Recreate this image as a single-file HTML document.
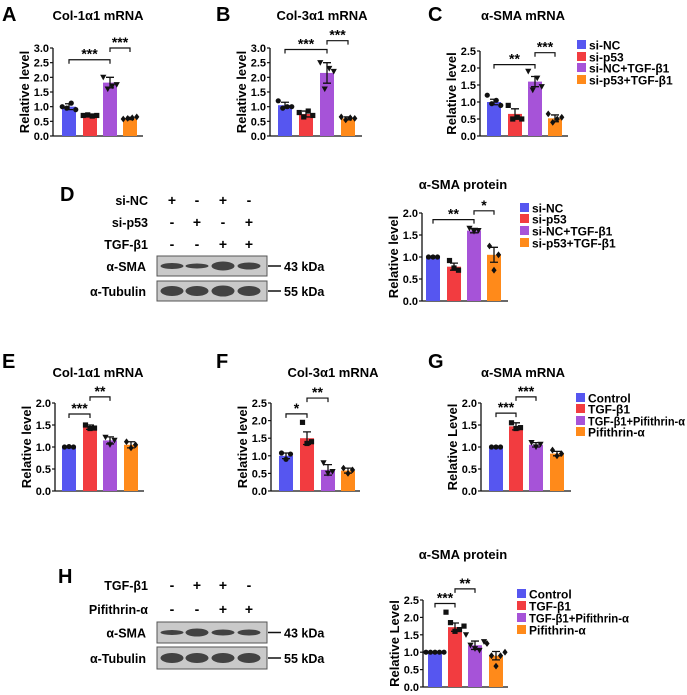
<!DOCTYPE html>
<html><head><meta charset="utf-8"><style>
html,body{margin:0;padding:0;background:#fff;}
svg{display:block;font-family:"Liberation Sans",Arial,sans-serif;font-weight:bold;}
</style></head><body>
<svg id="s" width="687" height="695" xmlns="http://www.w3.org/2000/svg"></svg>
<script>
const S=document.getElementById('s');let h='';
const C=['#5656f0','#f23c40','#a653d8','#ff8a1a'];
function t(x,y,s,sz,anc,extra){h+=`<text x="${x}" y="${y}" font-size="${sz}" text-anchor="${anc||'start'}" ${extra||''}>${s}</text>`;}
function sym(k,x,y){const r=2.6;
 if(k==0)h+=`<circle cx="${x}" cy="${y}" r="${r}" fill="#111"/>`;
 else if(k==1)h+=`<rect x="${x-r}" y="${y-r}" width="${2*r}" height="${2*r}" fill="#111"/>`;
 else if(k==2)h+=`<path d="M${x-r-0.5} ${y-r}L${x+r+0.5} ${y-r}L${x} ${y+r+0.5}Z" fill="#111"/>`;
 else h+=`<path d="M${x} ${y-r-0.8}L${x+r} ${y}L${x} ${y+r+0.8}L${x-r} ${y}Z" fill="#111"/>`;}
function chart(o){
 const {ax,y0,yt,max,step,end,cx,v,e,pts,title,tx,ty,yl,sig,bw}=o;
 const sc=(y0-yt)/max, Y=val=>y0-val*sc, w=bw||14;
 t(tx,ty,title,13,'middle');
 h+=`<line x1="${ax}" y1="${yt}" x2="${ax}" y2="${y0}" stroke="#111" stroke-width="1.3"/>`;
 h+=`<line x1="${ax}" y1="${y0}" x2="${end}" y2="${y0}" stroke="#111" stroke-width="1.3"/>`;
 for(let k=0;k<=max+1e-6;k+=step){const y=Y(k);h+=`<line x1="${ax-3}" y1="${y}" x2="${ax}" y2="${y}" stroke="#111" stroke-width="1.2"/>`;t(ax-4,y+4,k.toFixed(1),11,'end');}
 t(0,0,yl,13,'middle',`transform="translate(${ax-24},${(yt+y0)/2}) rotate(-90)"`);
 for(let i=0;i<4;i++){const x=cx[i];h+=`<rect x="${x-w/2}" y="${Y(v[i])}" width="${w}" height="${y0-Y(v[i])}" fill="${C[i]}"/>`;
  const a=Y(v[i]+e[i]),b=Y(v[i]-e[i]);h+=`<path d="M${x} ${a}V${b}M${x-4} ${a}H${x+4}M${x-4} ${b}H${x+4}" stroke="#111" stroke-width="1.3" fill="none"/>`;
  pts[i].forEach((p,j)=>sym(i,x+(j-(pts[i].length-1)/2)*4.5,Y(p)));}
 sig.forEach(s=>{const y=Y(s[2]);h+=`<path d="M${cx[s[0]]} ${y+4}V${y}H${cx[s[1]]}V${y+4}" stroke="#111" stroke-width="1.2" fill="none"/>`;t((cx[s[0]]+cx[s[1]])/2,y-1,s[3],14,'middle');});
}
function legend(x,ys,labs,lens){labs.forEach((l,i)=>{h+=`<rect x="${x}" y="${ys[i]-5}" width="9" height="9" fill="${C[i]}"/>`;t(x+12,ys[i]+4.5,l,12,'start',lens&&lens[i]?`textLength="${lens[i]}" lengthAdjust="spacingAndGlyphs"`:'');});}
function letter(x,y,s){t(x,y,s,20,'start');}
// Row 1
letter(2,21,'A');letter(216,21,'B');letter(428,21,'C');
chart({ax:53,y0:136,yt:48,max:3,step:.5,end:143,cx:[69,90,110,130],v:[1,.7,1.82,.6],e:[.1,.05,.18,.04],
 pts:[[1,.95,1.12,.9],[.7,.72,.68,.7],[2.0,1.6,1.7,1.75],[.58,.6,.62,.65]],title:'Col-1α1 mRNA',tx:98,ty:20,yl:'Relative  level',
 sig:[[0,2,2.6,'***'],[2,3,3.0,'***']]});
chart({ax:270,y0:136,yt:48,max:3,step:.5,end:362,cx:[285,306,327,348],v:[1.05,.75,2.15,.6],e:[.1,.1,.35,.05],
 pts:[[1.2,.95,1.0,1.0],[.8,.65,.85,.7],[2.5,1.6,2.3,2.2],[.65,.55,.62,.6]],title:'Col-3α1 mRNA',tx:322,ty:20,yl:'Relative  level',
 sig:[[0,2,2.95,'***'],[2,3,3.25,'***']]});
chart({ax:480,y0:136,yt:51,max:2.5,step:.5,end:568,cx:[494,515,535,555],v:[1.0,.65,1.6,.52],e:[.08,.15,.15,.1],
 pts:[[1.2,.95,1.05,.9],[.9,.5,.55,.5],[1.9,1.35,1.7,1.45],[.65,.4,.5,.55]],title:'α-SMA mRNA',tx:523,ty:20,yl:'Relative  level',
 sig:[[0,2,2.1,'**'],[2,3,2.45,'***']]});
legend(577,[45,57,68,80],['si-NC','si-p53','si-NC+TGF-β1','si-p53+TGF-β1']);
function blot(ys,rows,signs,bandsA,bandsB,ysA,ysB){
 rows.forEach((r,i)=>{t(148,ys[i]+5,r,12.5,'end');[172,197,223,249].forEach((x,j)=>t(x,ys[i]+5,signs[i][j],14,'middle'));});
 [[ysA,bandsA,'α-SMA','43 kDa'],[ysB,bandsB,'α-Tubulin','55 kDa']].forEach(([yy,bd,lab,kd])=>{
  h+=`<rect x="157" y="${yy[0]}" width="110" height="${yy[1]-yy[0]}" fill="#c9c9c9" stroke="#555" stroke-width="1"/>`;
  const m=(yy[0]+yy[1])/2;[172,197,223,249].forEach((x,j)=>h+=`<ellipse cx="${x}" cy="${m}" rx="11.5" ry="${bd[j]}" fill="#2a2a2a" opacity="0.85"/>`);
  h+=`<line x1="268" y1="${m}" x2="281" y2="${m}" stroke="#111" stroke-width="1.5"/>`;
  t(146,m+5,lab,12.5,'end');t(284,m+5,kd,12.5,'start');});
}
letter(60,201,'D');
blot([200,222,244],['si-NC','si-p53','TGF-β1'],[['+','-','+','-'],['-','+','-','+'],['-','-','+','+']],[3,2.5,4.5,3.5],[5,5,5.5,5],[256,276],[281,301]);
chart({ax:422,y0:301,yt:213,max:2,step:.5,end:508,cx:[433,454,474,494],v:[1,.78,1.6,1.05],e:[.01,.08,.05,.17],
 pts:[[1,1,1],[.92,.75,.7],[1.65,1.58,1.6],[1.25,.7,1.05]],title:'α-SMA protein',tx:463,ty:189,yl:'Relative  level',
 sig:[[0,2,1.85,'**'],[2,3,2.05,'*']]});
legend(520,[208,219,231,243],['si-NC','si-p53','si-NC+TGF-β1','si-p53+TGF-β1']);
// Row E
letter(2,368,'E');letter(216,368,'F');letter(428,368,'G');
chart({ax:55,y0:491,yt:403,max:2,step:.5,end:144,cx:[69,90,110,131],v:[1,1.45,1.15,1.05],e:[.01,.05,.08,.07],
 pts:[[1,1.01,1],[1.5,1.42,1.43],[1.22,1.05,1.15],[1.12,.98,1.05]],title:'Col-1α1 mRNA',tx:98,ty:377,yl:'Relative  level',
 sig:[[0,1,1.75,'***'],[1,2,2.14,'**']]});
chart({ax:271,y0:491,yt:403,max:2.5,step:.5,end:360,cx:[286,307,328,348],v:[1,1.5,.6,.58],e:[.08,.18,.15,.07],
 pts:[[1.08,.9,1.05],[1.95,1.35,1.4],[.8,.5,.55],[.65,.5,.6]],title:'Col-3α1 mRNA',tx:333,ty:377,yl:'Relative  level',
 sig:[[0,1,2.19,'*'],[1,2,2.64,'**']]});
chart({ax:481,y0:491,yt:403,max:2,step:.5,end:571,cx:[496,516,536,557],v:[1,1.47,1.05,.85],e:[.01,.08,.05,.05],
 pts:[[1,1,1],[1.55,1.42,1.44],[1.1,1.0,1.06],[.93,.8,.85]],title:'α-SMA mRNA',tx:523,ty:377,yl:'Relative Level',
 sig:[[0,1,1.77,'***'],[1,2,2.14,'***']]});
legend(576,[398,409,421,432],['Control','TGF-β1','TGF-β1+Pifithrin-α','Pifithrin-α'],[0,0,97,0]);
// Row H
letter(58,583,'H');
blot([585,609],['TGF-β1','Pifithrin-α'],[['-','+','+','-'],['-','-','+','+']],[2.5,4,3,3],[5,5,5,5],[622,643],[647,669]);
chart({ax:423,y0:687,yt:600,max:2.5,step:.5,end:508,cx:[435,455,475,496],v:[1,1.72,1.2,.9],e:[.01,.12,.12,.12],
 pts:[[1,1,1,1,1],[2.15,1.85,1.6,1.65,1.75],[1.5,1.2,1.1,1.05,1.3],[1.25,.9,.6,.9,1.0]],title:'α-SMA protein',tx:463,ty:559,yl:'Relative Level',
 sig:[[0,1,2.4,'***'],[1,2,2.82,'**']],bw:14});
legend(517,[594,606,618,630],['Control','TGF-β1','TGF-β1+Pifithrin-α','Pifithrin-α'],[0,0,100,0]);
S.innerHTML=h;
</script>
</body></html>
